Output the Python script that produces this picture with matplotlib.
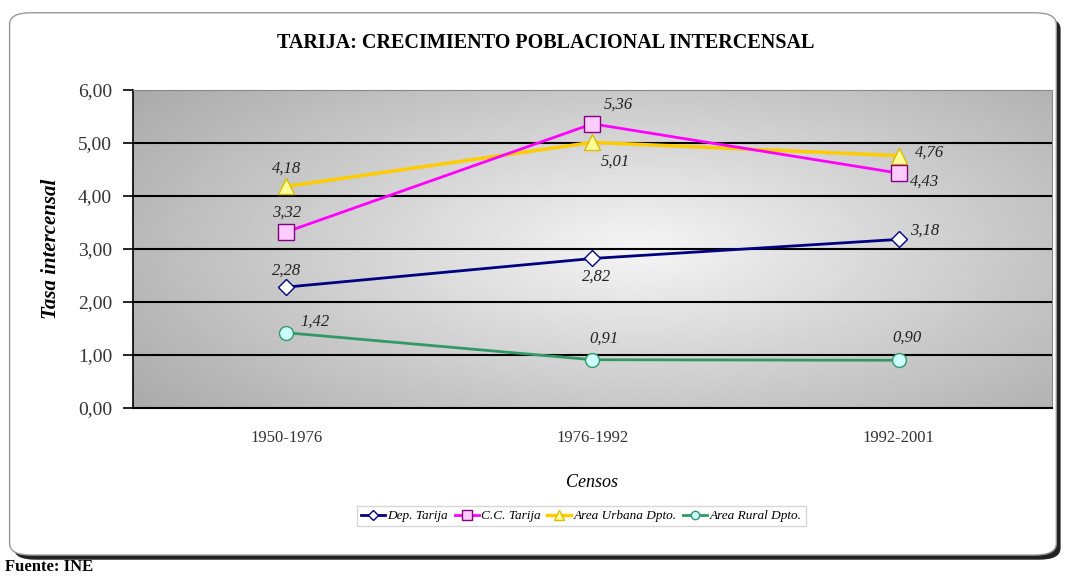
import numpy as np
import matplotlib.pyplot as plt
from matplotlib.patches import FancyBboxPatch

# Data
censos = ['1950-1976', '1976-1992', '1992-2001']
dep_tarija = [2.28, 2.82, 3.18]
cc_tarija = [3.32, 5.36, 4.43]
area_urbana = [4.18, 5.01, 4.76]
area_rural = [1.42, 0.91, 0.90]
y_ticks = [0, 1, 2, 3, 4, 5, 6]

serif = ['Liberation Serif', 'DejaVu Serif']
plt.rcParams['font.family'] = serif

fig = plt.figure(figsize=(10.67, 5.8), dpi=100)

# outer rounded frame with shadow
shadow = FancyBboxPatch((0.013, 0.035), 0.981, 0.935, boxstyle='round,pad=0,rounding_size=0.02',
                        transform=fig.transFigure, facecolor='#222222', edgecolor='none', zorder=-2)
frame = FancyBboxPatch((0.009, 0.043), 0.981, 0.935, boxstyle='round,pad=0,rounding_size=0.02',
                       transform=fig.transFigure, facecolor='white', edgecolor='#999999', lw=1, zorder=-1)
fig.patches.extend([shadow, frame])

ax = fig.add_axes([0.1247, 0.2966, 0.861, 0.5484])
ax.set_zorder(1)
x = np.arange(len(censos))

# radial gray gradient background
gx, gy = np.meshgrid(np.linspace(0, 1, 300), np.linspace(0, 1, 200))
r = np.sqrt(((gx - 0.55) / 0.75) ** 2 + ((gy - 0.5) / 0.9) ** 2)
bg = 0.96 - 0.32 * np.clip(r, 0, 1)
ax.imshow(bg, cmap='gray', vmin=0, vmax=1, extent=[-0.5, 2.5, 0, 6], aspect='auto',
          origin='lower', zorder=0, interpolation='bilinear')

for yv in y_ticks[1:-1]:
    ax.axhline(yv, color='black', lw=1.5, zorder=1)

ax.plot(x, area_rural, color='#339966', lw=2, marker='o', ms=10, mfc='#ccffff',
        mec='#339966', mew=1, zorder=3, label='Area Rural Dpto.')
ax.plot(x, dep_tarija, color='#000080', lw=2, marker='D', ms=8, mfc='white',
        mec='#000080', mew=1, zorder=3, label='Dep. Tarija')
ax.plot(x, area_urbana, color='#ffcc00', lw=2.5, marker='^', ms=11, mfc='#ffff99',
        mec='#ddbb00', mew=1, zorder=3, label='Area Urbana Dpto.')
ax.plot(x, cc_tarija, color='#ff00ff', lw=2, marker='s', ms=11, mfc='#ffccff',
        mec='#800080', mew=1, zorder=4, label='C.C. Tarija')

def fmt(v):
    return ('%.2f' % v).replace('.', ',')

lab = dict(fontsize=12, style='italic', color='#222222', zorder=5)
# (series, offsets in points)
offsets = [
    (area_urbana, [(0, 13, 'center'), (6, -14, 'left'), (12, 2, 'left')]),
    (cc_tarija, [(0, 14, 'center'), (8, 14, 'left'), (8, -6, 'left')]),
    (dep_tarija, [(0, 12, 'center'), (3, -13, 'center'), (8, 6, 'left')]),
    (area_rural, [(10, 8, 'left'), (8, 15, 'center'), (6, 16, 'center')]),
]
for series, offs in offsets:
    for i, (dx, dy, ha) in enumerate(offs):
        ax.annotate(fmt(series[i]), (x[i], series[i]), xytext=(dx, dy), textcoords='offset points',
                    ha=ha, va='center', **lab)

ax.set_xlim(-0.5, 2.5)
ax.set_ylim(0, 6)
ax.set_yticks(y_ticks)
ax.set_yticklabels([fmt(v) for v in y_ticks], fontsize=14, color='#333333')
ax.set_xticks(x)
ax.set_xticklabels(censos, fontsize=12, color='#333333')
ax.tick_params(axis='x', length=0, pad=16)
ax.tick_params(axis='y', direction='out', length=7, width=1.2, pad=8)
for s in ['top', 'right']:
    ax.spines[s].set_color('#888888')
ax.spines['left'].set_color('black')
ax.spines['left'].set_linewidth(1.2)
ax.spines['bottom'].set_color('black')
ax.spines['bottom'].set_linewidth(1.5)

ax.set_ylabel('Tasa intercensal', fontsize=15, style='italic', fontweight='bold', labelpad=12)
ax.set_xlabel('Censos', fontsize=13, style='italic', labelpad=20)

fig.text(0.511, 0.925, 'TARIJA: CRECIMIENTO POBLACIONAL INTERCENSAL', ha='center', va='center',
         fontsize=14.5, fontweight='bold')

handles, labels = ax.get_legend_handles_labels()
order = [1, 3, 2, 0]
leg = fig.legend([handles[i] for i in order], [labels[i] for i in order], loc='center',
                 bbox_to_anchor=(0.545, 0.11), ncol=4, frameon=True, fancybox=False,
                 edgecolor='#cccccc', prop={'style': 'italic', 'size': 9.5},
                 handlelength=1.8, columnspacing=0.5, handletextpad=0.2, markerscale=0.6,
                 borderpad=0.3)

fig.text(0.005, 0.022, 'Fuente: INE', fontsize=12, fontweight='bold', ha='left', va='center')

fig.savefig('out.png', dpi=100)
